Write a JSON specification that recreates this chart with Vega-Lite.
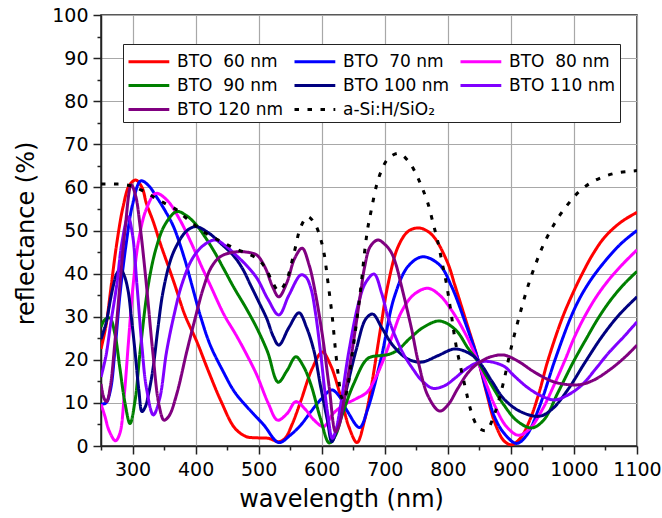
{
"$schema": "https://vega.github.io/schema/vega-lite/v6.json",
"width": 536, "height": 431,
"autosize": {"type": "none"},
"padding": {"left": 101, "top": 15, "right": 25, "bottom": 72},
"background": "white",
"config": {
 "font": "DejaVu Sans",
 "view": {"stroke": "#222", "strokeWidth": 1.5},
 "axis": {"domainColor": "#222", "domainWidth": 1.5, "tickColor": "#222", "tickWidth": 1.5, "gridColor": "#a8a8a8", "gridWidth": 1.2, "labelFont": "DejaVu Sans", "labelFontSize": 19, "labelColor": "black", "titleFont": "DejaVu Sans", "titleFontSize": 24, "titleFontWeight": "normal", "titleColor": "black", "labelOverlap": false, "labelBound": false, "labelFlush": false},
 "legend": {"orient": "none", "legendX": 22, "legendY": 29, "columns": 3, "direction": "horizontal", "symbolType": "M-1,0H2.4", "symbolSize": 576, "symbolStrokeWidth": 3, "labelFont": "DejaVu Sans", "labelFontSize": 17, "labelColor": "black", "labelOffset": 23, "rowPadding": 2, "columnPadding": 4, "padding": 4, "strokeColor": "#222", "fillColor": "white", "gridAlign": "each", "labelLimit": 300}
},
"data": {"values": [
{"s":"BTO \u00a060 nm","wl":250,"r":22.5},{"s":"BTO \u00a060 nm","wl":258,"r":28},{"s":"BTO \u00a060 nm","wl":266,"r":37},{"s":"BTO \u00a060 nm","wl":275,"r":47},{"s":"BTO \u00a060 nm","wl":285,"r":55.5},{"s":"BTO \u00a060 nm","wl":295,"r":60.5},{"s":"BTO \u00a060 nm","wl":305,"r":61.7},{"s":"BTO \u00a060 nm","wl":315,"r":60},{"s":"BTO \u00a060 nm","wl":322,"r":56.3},{"s":"BTO \u00a060 nm","wl":333,"r":52},{"s":"BTO \u00a060 nm","wl":344,"r":47},{"s":"BTO \u00a060 nm","wl":359,"r":40.8},{"s":"BTO \u00a060 nm","wl":367,"r":37.4},{"s":"BTO \u00a060 nm","wl":383,"r":30.4},{"s":"BTO \u00a060 nm","wl":402,"r":24.2},{"s":"BTO \u00a060 nm","wl":420,"r":17.5},{"s":"BTO \u00a060 nm","wl":440,"r":10.5},{"s":"BTO \u00a060 nm","wl":462,"r":4.2},{"s":"BTO \u00a060 nm","wl":480,"r":2.2},{"s":"BTO \u00a060 nm","wl":497,"r":1.9},{"s":"BTO \u00a060 nm","wl":515,"r":1.8},{"s":"BTO \u00a060 nm","wl":532,"r":1},{"s":"BTO \u00a060 nm","wl":542,"r":1.8},{"s":"BTO \u00a060 nm","wl":553,"r":5},{"s":"BTO \u00a060 nm","wl":567,"r":10.5},{"s":"BTO \u00a060 nm","wl":585,"r":18},{"s":"BTO \u00a060 nm","wl":601,"r":21.8},{"s":"BTO \u00a060 nm","wl":614,"r":18.8},{"s":"BTO \u00a060 nm","wl":630,"r":11.5},{"s":"BTO \u00a060 nm","wl":643,"r":4.5},{"s":"BTO \u00a060 nm","wl":656,"r":0.8},{"s":"BTO \u00a060 nm","wl":668,"r":6},{"s":"BTO \u00a060 nm","wl":678,"r":13.2},{"s":"BTO \u00a060 nm","wl":694,"r":27.9},{"s":"BTO \u00a060 nm","wl":705,"r":37.4},{"s":"BTO \u00a060 nm","wl":721,"r":46.2},{"s":"BTO \u00a060 nm","wl":737,"r":49.8},{"s":"BTO \u00a060 nm","wl":753,"r":50.6},{"s":"BTO \u00a060 nm","wl":766,"r":50},{"s":"BTO \u00a060 nm","wl":779,"r":48.3},{"s":"BTO \u00a060 nm","wl":800,"r":42.4},{"s":"BTO \u00a060 nm","wl":811,"r":37.4},{"s":"BTO \u00a060 nm","wl":830,"r":28.5},{"s":"BTO \u00a060 nm","wl":848,"r":20},{"s":"BTO \u00a060 nm","wl":862,"r":12},{"s":"BTO \u00a060 nm","wl":874,"r":5.6},{"s":"BTO \u00a060 nm","wl":889,"r":1.2},{"s":"BTO \u00a060 nm","wl":901,"r":0.3},{"s":"BTO \u00a060 nm","wl":915,"r":1.8},{"s":"BTO \u00a060 nm","wl":930,"r":6},{"s":"BTO \u00a060 nm","wl":945,"r":12.5},{"s":"BTO \u00a060 nm","wl":958,"r":19.5},{"s":"BTO \u00a060 nm","wl":981,"r":29.5},{"s":"BTO \u00a060 nm","wl":1000,"r":36},{"s":"BTO \u00a060 nm","wl":1015,"r":40.5},{"s":"BTO \u00a060 nm","wl":1030,"r":44.5},{"s":"BTO \u00a060 nm","wl":1049,"r":48.5},{"s":"BTO \u00a060 nm","wl":1075,"r":52},{"s":"BTO \u00a060 nm","wl":1100,"r":54.2},

{"s":"BTO \u00a070 nm","wl":250,"r":9.7},{"s":"BTO \u00a070 nm","wl":258,"r":10},{"s":"BTO \u00a070 nm","wl":265,"r":13},{"s":"BTO \u00a070 nm","wl":272,"r":22},{"s":"BTO \u00a070 nm","wl":280,"r":35},{"s":"BTO \u00a070 nm","wl":290,"r":47},{"s":"BTO \u00a070 nm","wl":300,"r":56},{"s":"BTO \u00a070 nm","wl":313,"r":61.5},{"s":"BTO \u00a070 nm","wl":325,"r":60.5},{"s":"BTO \u00a070 nm","wl":338,"r":57.8},{"s":"BTO \u00a070 nm","wl":352,"r":54.5},{"s":"BTO \u00a070 nm","wl":365,"r":50.9},{"s":"BTO \u00a070 nm","wl":383,"r":43.2},{"s":"BTO \u00a070 nm","wl":394,"r":37.4},{"s":"BTO \u00a070 nm","wl":408,"r":30},{"s":"BTO \u00a070 nm","wl":423,"r":23.5},{"s":"BTO \u00a070 nm","wl":444,"r":17.2},{"s":"BTO \u00a070 nm","wl":462,"r":12.5},{"s":"BTO \u00a070 nm","wl":482,"r":9},{"s":"BTO \u00a070 nm","wl":508,"r":4.9},{"s":"BTO \u00a070 nm","wl":532,"r":0.8},{"s":"BTO \u00a070 nm","wl":550,"r":2.5},{"s":"BTO \u00a070 nm","wl":567,"r":4.9},{"s":"BTO \u00a070 nm","wl":583,"r":8},{"s":"BTO \u00a070 nm","wl":598,"r":10.7},{"s":"BTO \u00a070 nm","wl":616,"r":13},{"s":"BTO \u00a070 nm","wl":628,"r":11.5},{"s":"BTO \u00a070 nm","wl":641,"r":8},{"s":"BTO \u00a070 nm","wl":660,"r":4.3},{"s":"BTO \u00a070 nm","wl":673,"r":8.6},{"s":"BTO \u00a070 nm","wl":694,"r":20.2},{"s":"BTO \u00a070 nm","wl":715,"r":34.5},{"s":"BTO \u00a070 nm","wl":737,"r":41.7},{"s":"BTO \u00a070 nm","wl":760,"r":43.9},{"s":"BTO \u00a070 nm","wl":787,"r":42},{"s":"BTO \u00a070 nm","wl":806,"r":37},{"s":"BTO \u00a070 nm","wl":828,"r":28.5},{"s":"BTO \u00a070 nm","wl":848,"r":20},{"s":"BTO \u00a070 nm","wl":862,"r":12.5},{"s":"BTO \u00a070 nm","wl":874,"r":6.8},{"s":"BTO \u00a070 nm","wl":889,"r":3},{"s":"BTO \u00a070 nm","wl":909,"r":0.6},{"s":"BTO \u00a070 nm","wl":925,"r":2.5},{"s":"BTO \u00a070 nm","wl":945,"r":9},{"s":"BTO \u00a070 nm","wl":970,"r":20},{"s":"BTO \u00a070 nm","wl":994,"r":29.5},{"s":"BTO \u00a070 nm","wl":1010,"r":34.5},{"s":"BTO \u00a070 nm","wl":1028,"r":38.8},{"s":"BTO \u00a070 nm","wl":1050,"r":43},{"s":"BTO \u00a070 nm","wl":1075,"r":47},{"s":"BTO \u00a070 nm","wl":1100,"r":50},

{"s":"BTO \u00a080 nm","wl":250,"r":9.7},{"s":"BTO \u00a080 nm","wl":256,"r":7},{"s":"BTO \u00a080 nm","wl":263,"r":3.5},{"s":"BTO \u00a080 nm","wl":273,"r":1.2},{"s":"BTO \u00a080 nm","wl":280,"r":3},{"s":"BTO \u00a080 nm","wl":287,"r":12},{"s":"BTO \u00a080 nm","wl":294,"r":25},{"s":"BTO \u00a080 nm","wl":301,"r":37.4},{"s":"BTO \u00a080 nm","wl":310,"r":48},{"s":"BTO \u00a080 nm","wl":322,"r":55},{"s":"BTO \u00a080 nm","wl":337,"r":58.6},{"s":"BTO \u00a080 nm","wl":355,"r":57},{"s":"BTO \u00a080 nm","wl":375,"r":52.5},{"s":"BTO \u00a080 nm","wl":395,"r":46.5},{"s":"BTO \u00a080 nm","wl":410,"r":41.5},{"s":"BTO \u00a080 nm","wl":423,"r":37.4},{"s":"BTO \u00a080 nm","wl":445,"r":30.5},{"s":"BTO \u00a080 nm","wl":464,"r":25.8},{"s":"BTO \u00a080 nm","wl":480,"r":21.5},{"s":"BTO \u00a080 nm","wl":497,"r":16.5},{"s":"BTO \u00a080 nm","wl":515,"r":10},{"s":"BTO \u00a080 nm","wl":530,"r":6},{"s":"BTO \u00a080 nm","wl":545,"r":7.5},{"s":"BTO \u00a080 nm","wl":559,"r":10.3},{"s":"BTO \u00a080 nm","wl":574,"r":8.5},{"s":"BTO \u00a080 nm","wl":588,"r":6},{"s":"BTO \u00a080 nm","wl":603,"r":4.5},{"s":"BTO \u00a080 nm","wl":618,"r":7.5},{"s":"BTO \u00a080 nm","wl":635,"r":9.5},{"s":"BTO \u00a080 nm","wl":655,"r":11},{"s":"BTO \u00a080 nm","wl":672,"r":12.5},{"s":"BTO \u00a080 nm","wl":686,"r":16},{"s":"BTO \u00a080 nm","wl":700,"r":20.8},{"s":"BTO \u00a080 nm","wl":713,"r":26},{"s":"BTO \u00a080 nm","wl":726,"r":31},{"s":"BTO \u00a080 nm","wl":745,"r":35},{"s":"BTO \u00a080 nm","wl":768,"r":36.6},{"s":"BTO \u00a080 nm","wl":787,"r":35},{"s":"BTO \u00a080 nm","wl":806,"r":31.5},{"s":"BTO \u00a080 nm","wl":828,"r":26},{"s":"BTO \u00a080 nm","wl":848,"r":19.5},{"s":"BTO \u00a080 nm","wl":862,"r":14},{"s":"BTO \u00a080 nm","wl":874,"r":9.5},{"s":"BTO \u00a080 nm","wl":893,"r":4.5},{"s":"BTO \u00a080 nm","wl":912,"r":2.5},{"s":"BTO \u00a080 nm","wl":930,"r":4},{"s":"BTO \u00a080 nm","wl":950,"r":8.5},{"s":"BTO \u00a080 nm","wl":968,"r":14},{"s":"BTO \u00a080 nm","wl":986,"r":20},{"s":"BTO \u00a080 nm","wl":1000,"r":25},{"s":"BTO \u00a080 nm","wl":1015,"r":29.5},{"s":"BTO \u00a080 nm","wl":1035,"r":34.5},{"s":"BTO \u00a080 nm","wl":1055,"r":38.5},{"s":"BTO \u00a080 nm","wl":1078,"r":42.3},{"s":"BTO \u00a080 nm","wl":1100,"r":45.5},

{"s":"BTO \u00a090 nm","wl":250,"r":27.6},{"s":"BTO \u00a090 nm","wl":256,"r":29.3},{"s":"BTO \u00a090 nm","wl":264,"r":29.7},{"s":"BTO \u00a090 nm","wl":272,"r":26},{"s":"BTO \u00a090 nm","wl":280,"r":18},{"s":"BTO \u00a090 nm","wl":288,"r":10},{"s":"BTO \u00a090 nm","wl":296,"r":5.2},{"s":"BTO \u00a090 nm","wl":304,"r":10.5},{"s":"BTO \u00a090 nm","wl":312,"r":21.9},{"s":"BTO \u00a090 nm","wl":325,"r":37.4},{"s":"BTO \u00a090 nm","wl":338,"r":46.2},{"s":"BTO \u00a090 nm","wl":352,"r":51.5},{"s":"BTO \u00a090 nm","wl":370,"r":54.4},{"s":"BTO \u00a090 nm","wl":385,"r":53.5},{"s":"BTO \u00a090 nm","wl":400,"r":51.5},{"s":"BTO \u00a090 nm","wl":415,"r":48.5},{"s":"BTO \u00a090 nm","wl":430,"r":45},{"s":"BTO \u00a090 nm","wl":445,"r":41},{"s":"BTO \u00a090 nm","wl":461,"r":36.7},{"s":"BTO \u00a090 nm","wl":480,"r":32},{"s":"BTO \u00a090 nm","wl":497,"r":27.4},{"s":"BTO \u00a090 nm","wl":514,"r":21.9},{"s":"BTO \u00a090 nm","wl":531,"r":14.8},{"s":"BTO \u00a090 nm","wl":545,"r":17.5},{"s":"BTO \u00a090 nm","wl":559,"r":20.7},{"s":"BTO \u00a090 nm","wl":571,"r":18.5},{"s":"BTO \u00a090 nm","wl":583,"r":14.2},{"s":"BTO \u00a090 nm","wl":598,"r":6.4},{"s":"BTO \u00a090 nm","wl":612,"r":0.7},{"s":"BTO \u00a090 nm","wl":622,"r":2.5},{"s":"BTO \u00a090 nm","wl":632,"r":7},{"s":"BTO \u00a090 nm","wl":651,"r":14.5},{"s":"BTO \u00a090 nm","wl":673,"r":20.3},{"s":"BTO \u00a090 nm","wl":694,"r":21},{"s":"BTO \u00a090 nm","wl":705,"r":21.2},{"s":"BTO \u00a090 nm","wl":720,"r":22.2},{"s":"BTO \u00a090 nm","wl":740,"r":25},{"s":"BTO \u00a090 nm","wl":762,"r":27.6},{"s":"BTO \u00a090 nm","wl":787,"r":29},{"s":"BTO \u00a090 nm","wl":812,"r":27},{"s":"BTO \u00a090 nm","wl":832,"r":22.7},{"s":"BTO \u00a090 nm","wl":848,"r":19.5},{"s":"BTO \u00a090 nm","wl":869,"r":14.2},{"s":"BTO \u00a090 nm","wl":889,"r":9.5},{"s":"BTO \u00a090 nm","wl":910,"r":5.8},{"s":"BTO \u00a090 nm","wl":933,"r":4.2},{"s":"BTO \u00a090 nm","wl":952,"r":6},{"s":"BTO \u00a090 nm","wl":975,"r":12.5},{"s":"BTO \u00a090 nm","wl":999,"r":19.5},{"s":"BTO \u00a090 nm","wl":1020,"r":25},{"s":"BTO \u00a090 nm","wl":1040,"r":30},{"s":"BTO \u00a090 nm","wl":1060,"r":34.2},{"s":"BTO \u00a090 nm","wl":1081,"r":37.8},{"s":"BTO \u00a090 nm","wl":1100,"r":40.5},

{"s":"BTO 100 nm","wl":250,"r":24.8},{"s":"BTO 100 nm","wl":258,"r":28.5},{"s":"BTO 100 nm","wl":265,"r":34},{"s":"BTO 100 nm","wl":270,"r":37.5},{"s":"BTO 100 nm","wl":275,"r":40},{"s":"BTO 100 nm","wl":281,"r":41},{"s":"BTO 100 nm","wl":287,"r":39.5},{"s":"BTO 100 nm","wl":293,"r":36},{"s":"BTO 100 nm","wl":298,"r":30},{"s":"BTO 100 nm","wl":304,"r":21.9},{"s":"BTO 100 nm","wl":310,"r":13},{"s":"BTO 100 nm","wl":315,"r":8},{"s":"BTO 100 nm","wl":320,"r":9},{"s":"BTO 100 nm","wl":326,"r":12.5},{"s":"BTO 100 nm","wl":333,"r":18.5},{"s":"BTO 100 nm","wl":340,"r":27},{"s":"BTO 100 nm","wl":348,"r":35.5},{"s":"BTO 100 nm","wl":360,"r":43},{"s":"BTO 100 nm","wl":370,"r":46.5},{"s":"BTO 100 nm","wl":385,"r":49.8},{"s":"BTO 100 nm","wl":400,"r":50.9},{"s":"BTO 100 nm","wl":420,"r":49.5},{"s":"BTO 100 nm","wl":440,"r":47},{"s":"BTO 100 nm","wl":461,"r":44},{"s":"BTO 100 nm","wl":475,"r":41},{"s":"BTO 100 nm","wl":487,"r":37.4},{"s":"BTO 100 nm","wl":500,"r":33.5},{"s":"BTO 100 nm","wl":513,"r":29.5},{"s":"BTO 100 nm","wl":523,"r":25.5},{"s":"BTO 100 nm","wl":532,"r":23.4},{"s":"BTO 100 nm","wl":548,"r":27.5},{"s":"BTO 100 nm","wl":564,"r":30.9},{"s":"BTO 100 nm","wl":576,"r":27.5},{"s":"BTO 100 nm","wl":588,"r":21.9},{"s":"BTO 100 nm","wl":598,"r":14},{"s":"BTO 100 nm","wl":609,"r":6},{"s":"BTO 100 nm","wl":616,"r":1},{"s":"BTO 100 nm","wl":625,"r":4.5},{"s":"BTO 100 nm","wl":641,"r":14.2},{"s":"BTO 100 nm","wl":655,"r":22.5},{"s":"BTO 100 nm","wl":670,"r":29.5},{"s":"BTO 100 nm","wl":681,"r":30.6},{"s":"BTO 100 nm","wl":695,"r":27.5},{"s":"BTO 100 nm","wl":712,"r":23.5},{"s":"BTO 100 nm","wl":730,"r":20.8},{"s":"BTO 100 nm","wl":745,"r":19.7},{"s":"BTO 100 nm","wl":760,"r":19.5},{"s":"BTO 100 nm","wl":785,"r":21},{"s":"BTO 100 nm","wl":810,"r":22.5},{"s":"BTO 100 nm","wl":830,"r":21.8},{"s":"BTO 100 nm","wl":847,"r":20},{"s":"BTO 100 nm","wl":870,"r":15},{"s":"BTO 100 nm","wl":889,"r":10.9},{"s":"BTO 100 nm","wl":915,"r":8},{"s":"BTO 100 nm","wl":945,"r":6.9},{"s":"BTO 100 nm","wl":965,"r":8.5},{"s":"BTO 100 nm","wl":990,"r":13},{"s":"BTO 100 nm","wl":1018,"r":19.5},{"s":"BTO 100 nm","wl":1045,"r":25.5},{"s":"BTO 100 nm","wl":1072,"r":30.5},{"s":"BTO 100 nm","wl":1100,"r":34.6},

{"s":"BTO 110 nm","wl":250,"r":16},{"s":"BTO 110 nm","wl":258,"r":21},{"s":"BTO 110 nm","wl":265,"r":28},{"s":"BTO 110 nm","wl":275,"r":37.4},{"s":"BTO 110 nm","wl":283,"r":47},{"s":"BTO 110 nm","wl":293,"r":53.2},{"s":"BTO 110 nm","wl":300,"r":49},{"s":"BTO 110 nm","wl":307,"r":37.4},{"s":"BTO 110 nm","wl":315,"r":23},{"s":"BTO 110 nm","wl":322,"r":13.5},{"s":"BTO 110 nm","wl":333,"r":7.2},{"s":"BTO 110 nm","wl":343,"r":11},{"s":"BTO 110 nm","wl":354,"r":21.9},{"s":"BTO 110 nm","wl":366,"r":30.5},{"s":"BTO 110 nm","wl":378,"r":37.4},{"s":"BTO 110 nm","wl":395,"r":43.5},{"s":"BTO 110 nm","wl":412,"r":46.5},{"s":"BTO 110 nm","wl":431,"r":47.8},{"s":"BTO 110 nm","wl":447,"r":46.5},{"s":"BTO 110 nm","wl":461,"r":44.7},{"s":"BTO 110 nm","wl":480,"r":42},{"s":"BTO 110 nm","wl":497,"r":39},{"s":"BTO 110 nm","wl":515,"r":34},{"s":"BTO 110 nm","wl":532,"r":30.4},{"s":"BTO 110 nm","wl":548,"r":35},{"s":"BTO 110 nm","wl":567,"r":39.7},{"s":"BTO 110 nm","wl":575,"r":39.2},{"s":"BTO 110 nm","wl":583,"r":36.5},{"s":"BTO 110 nm","wl":590,"r":31},{"s":"BTO 110 nm","wl":598,"r":21.9},{"s":"BTO 110 nm","wl":609,"r":8},{"s":"BTO 110 nm","wl":617,"r":1.8},{"s":"BTO 110 nm","wl":623,"r":4},{"s":"BTO 110 nm","wl":630,"r":9.5},{"s":"BTO 110 nm","wl":643,"r":21.9},{"s":"BTO 110 nm","wl":659,"r":33.5},{"s":"BTO 110 nm","wl":670,"r":38},{"s":"BTO 110 nm","wl":683,"r":39.9},{"s":"BTO 110 nm","wl":695,"r":35.5},{"s":"BTO 110 nm","wl":705,"r":30},{"s":"BTO 110 nm","wl":718,"r":25},{"s":"BTO 110 nm","wl":731,"r":21},{"s":"BTO 110 nm","wl":745,"r":17.8},{"s":"BTO 110 nm","wl":758,"r":15.3},{"s":"BTO 110 nm","wl":776,"r":13.4},{"s":"BTO 110 nm","wl":795,"r":14},{"s":"BTO 110 nm","wl":811,"r":15.7},{"s":"BTO 110 nm","wl":830,"r":18},{"s":"BTO 110 nm","wl":848,"r":19.4},{"s":"BTO 110 nm","wl":865,"r":19.6},{"s":"BTO 110 nm","wl":889,"r":18.5},{"s":"BTO 110 nm","wl":905,"r":16.3},{"s":"BTO 110 nm","wl":928,"r":13.4},{"s":"BTO 110 nm","wl":950,"r":11.5},{"s":"BTO 110 nm","wl":970,"r":10.7},{"s":"BTO 110 nm","wl":990,"r":11.8},{"s":"BTO 110 nm","wl":1013,"r":14.2},{"s":"BTO 110 nm","wl":1035,"r":18},{"s":"BTO 110 nm","wl":1055,"r":21.6},{"s":"BTO 110 nm","wl":1080,"r":25.5},{"s":"BTO 110 nm","wl":1100,"r":28.8},

{"s":"BTO 120 nm","wl":250,"r":14.4},{"s":"BTO 120 nm","wl":255,"r":11},{"s":"BTO 120 nm","wl":259,"r":10.3},{"s":"BTO 120 nm","wl":265,"r":14},{"s":"BTO 120 nm","wl":272,"r":24},{"s":"BTO 120 nm","wl":280,"r":37.4},{"s":"BTO 120 nm","wl":288,"r":50},{"s":"BTO 120 nm","wl":298,"r":60.6},{"s":"BTO 120 nm","wl":305,"r":58},{"s":"BTO 120 nm","wl":312,"r":51},{"s":"BTO 120 nm","wl":322,"r":37.4},{"s":"BTO 120 nm","wl":332,"r":22},{"s":"BTO 120 nm","wl":342,"r":9.5},{"s":"BTO 120 nm","wl":350,"r":6},{"s":"BTO 120 nm","wl":358,"r":7},{"s":"BTO 120 nm","wl":370,"r":12},{"s":"BTO 120 nm","wl":386,"r":21.9},{"s":"BTO 120 nm","wl":400,"r":30},{"s":"BTO 120 nm","wl":412,"r":36.5},{"s":"BTO 120 nm","wl":425,"r":41.5},{"s":"BTO 120 nm","wl":440,"r":44},{"s":"BTO 120 nm","wl":461,"r":45},{"s":"BTO 120 nm","wl":480,"r":45},{"s":"BTO 120 nm","wl":497,"r":44.3},{"s":"BTO 120 nm","wl":510,"r":41.5},{"s":"BTO 120 nm","wl":522,"r":37},{"s":"BTO 120 nm","wl":532,"r":34.6},{"s":"BTO 120 nm","wl":545,"r":38},{"s":"BTO 120 nm","wl":557,"r":43.5},{"s":"BTO 120 nm","wl":569,"r":45.9},{"s":"BTO 120 nm","wl":580,"r":42},{"s":"BTO 120 nm","wl":588,"r":37},{"s":"BTO 120 nm","wl":601,"r":25.8},{"s":"BTO 120 nm","wl":612,"r":13.5},{"s":"BTO 120 nm","wl":622,"r":3.3},{"s":"BTO 120 nm","wl":628,"r":5},{"s":"BTO 120 nm","wl":635,"r":10.3},{"s":"BTO 120 nm","wl":648,"r":21.9},{"s":"BTO 120 nm","wl":662,"r":35.8},{"s":"BTO 120 nm","wl":668,"r":41.5},{"s":"BTO 120 nm","wl":677,"r":46.3},{"s":"BTO 120 nm","wl":689,"r":47.8},{"s":"BTO 120 nm","wl":700,"r":46.8},{"s":"BTO 120 nm","wl":710,"r":45},{"s":"BTO 120 nm","wl":718,"r":42},{"s":"BTO 120 nm","wl":726,"r":37.4},{"s":"BTO 120 nm","wl":742,"r":27.5},{"s":"BTO 120 nm","wl":753,"r":19.6},{"s":"BTO 120 nm","wl":769,"r":11.5},{"s":"BTO 120 nm","wl":787,"r":8.1},{"s":"BTO 120 nm","wl":800,"r":9.5},{"s":"BTO 120 nm","wl":816,"r":13.4},{"s":"BTO 120 nm","wl":832,"r":17},{"s":"BTO 120 nm","wl":848,"r":19.2},{"s":"BTO 120 nm","wl":868,"r":20.7},{"s":"BTO 120 nm","wl":889,"r":21.1},{"s":"BTO 120 nm","wl":910,"r":19.8},{"s":"BTO 120 nm","wl":939,"r":17},{"s":"BTO 120 nm","wl":970,"r":14.8},{"s":"BTO 120 nm","wl":1007,"r":14.2},{"s":"BTO 120 nm","wl":1030,"r":15.2},{"s":"BTO 120 nm","wl":1055,"r":17.5},{"s":"BTO 120 nm","wl":1080,"r":20.5},{"s":"BTO 120 nm","wl":1100,"r":23.4},

{"s":"a-Si:H/SiO₂","wl":250,"r":60.8},{"s":"a-Si:H/SiO₂","wl":270,"r":60.8},{"s":"a-Si:H/SiO₂","wl":290,"r":60.6},{"s":"a-Si:H/SiO₂","wl":301,"r":60.2},{"s":"a-Si:H/SiO₂","wl":315,"r":59.3},{"s":"a-Si:H/SiO₂","wl":333,"r":57.8},{"s":"a-Si:H/SiO₂","wl":350,"r":56.4},{"s":"a-Si:H/SiO₂","wl":370,"r":54.8},{"s":"a-Si:H/SiO₂","wl":385,"r":52.9},{"s":"a-Si:H/SiO₂","wl":402,"r":50.9},{"s":"a-Si:H/SiO₂","wl":420,"r":49},{"s":"a-Si:H/SiO₂","wl":444,"r":47.2},{"s":"a-Si:H/SiO₂","wl":464,"r":45.7},{"s":"a-Si:H/SiO₂","wl":482,"r":44.7},{"s":"a-Si:H/SiO₂","wl":500,"r":43.2},{"s":"a-Si:H/SiO₂","wl":512,"r":41},{"s":"a-Si:H/SiO₂","wl":522,"r":38},{"s":"a-Si:H/SiO₂","wl":532,"r":36},{"s":"a-Si:H/SiO₂","wl":543,"r":38},{"s":"a-Si:H/SiO₂","wl":556,"r":44.7},{"s":"a-Si:H/SiO₂","wl":567,"r":50.9},{"s":"a-Si:H/SiO₂","wl":578,"r":53.2},{"s":"a-Si:H/SiO₂","wl":590,"r":51.3},{"s":"a-Si:H/SiO₂","wl":598,"r":48.2},{"s":"a-Si:H/SiO₂","wl":604,"r":44.5},{"s":"a-Si:H/SiO₂","wl":609,"r":39},{"s":"a-Si:H/SiO₂","wl":613,"r":34.5},{"s":"a-Si:H/SiO₂","wl":617,"r":29.6},{"s":"a-Si:H/SiO₂","wl":622,"r":22},{"s":"a-Si:H/SiO₂","wl":627,"r":15.5},{"s":"a-Si:H/SiO₂","wl":631,"r":11.5},{"s":"a-Si:H/SiO₂","wl":635,"r":10.5},{"s":"a-Si:H/SiO₂","wl":641,"r":13.5},{"s":"a-Si:H/SiO₂","wl":649,"r":21.9},{"s":"a-Si:H/SiO₂","wl":656,"r":29.6},{"s":"a-Si:H/SiO₂","wl":663,"r":38},{"s":"a-Si:H/SiO₂","wl":668,"r":45},{"s":"a-Si:H/SiO₂","wl":673,"r":50.5},{"s":"a-Si:H/SiO₂","wl":679,"r":55},{"s":"a-Si:H/SiO₂","wl":687,"r":60.5},{"s":"a-Si:H/SiO₂","wl":695,"r":64},{"s":"a-Si:H/SiO₂","wl":705,"r":66.6},{"s":"a-Si:H/SiO₂","wl":722,"r":67.9},{"s":"a-Si:H/SiO₂","wl":738,"r":66},{"s":"a-Si:H/SiO₂","wl":750,"r":63},{"s":"a-Si:H/SiO₂","wl":759,"r":60},{"s":"a-Si:H/SiO₂","wl":768,"r":56.5},{"s":"a-Si:H/SiO₂","wl":777,"r":51.5},{"s":"a-Si:H/SiO₂","wl":784,"r":47.5},{"s":"a-Si:H/SiO₂","wl":791,"r":42.5},{"s":"a-Si:H/SiO₂","wl":798,"r":37.5},{"s":"a-Si:H/SiO₂","wl":805,"r":31},{"s":"a-Si:H/SiO₂","wl":813,"r":23.4},{"s":"a-Si:H/SiO₂","wl":827,"r":14},{"s":"a-Si:H/SiO₂","wl":837,"r":8},{"s":"a-Si:H/SiO₂","wl":845,"r":5},{"s":"a-Si:H/SiO₂","wl":852,"r":3.9},{"s":"a-Si:H/SiO₂","wl":861,"r":3.6},{"s":"a-Si:H/SiO₂","wl":874,"r":7.4},{"s":"a-Si:H/SiO₂","wl":887,"r":14},{"s":"a-Si:H/SiO₂","wl":900,"r":22.5},{"s":"a-Si:H/SiO₂","wl":915,"r":31},{"s":"a-Si:H/SiO₂","wl":928,"r":37.5},{"s":"a-Si:H/SiO₂","wl":940,"r":42.5},{"s":"a-Si:H/SiO₂","wl":952,"r":46.8},{"s":"a-Si:H/SiO₂","wl":970,"r":51.8},{"s":"a-Si:H/SiO₂","wl":990,"r":56},{"s":"a-Si:H/SiO₂","wl":1008,"r":59},{"s":"a-Si:H/SiO₂","wl":1026,"r":61},{"s":"a-Si:H/SiO₂","wl":1044,"r":62.3},{"s":"a-Si:H/SiO₂","wl":1066,"r":63.3},{"s":"a-Si:H/SiO₂","wl":1087,"r":63.7},{"s":"a-Si:H/SiO₂","wl":1100,"r":63.9}
]},
"mark": {"type": "line", "strokeWidth": 3, "interpolate": "catmull-rom", "clip": true},
"encoding": {
 "x": {"field": "wl", "type": "quantitative",
  "scale": {"domain": [250, 1100], "nice": false, "zero": false},
  "axis": {"values": [250,300,350,400,450,500,550,600,650,700,750,800,850,900,950,1000,1050,1100], "format": "d",
   "labelExpr": "datum.value % 100 === 0 ? datum.label : ''",
   "tickSize": {"condition": {"test": "datum.value % 100 === 0", "value": 8}, "value": 4},
   "gridOpacity": {"condition": {"test": "datum.value % 100 === 0", "value": 1}, "value": 0},
   "labelPadding": 6, "title": "wavelength (nm)", "titleX": 240, "titleY": 60, "titleBaseline": "alphabetic", "titleAlign": "center"}},
 "y": {"field": "r", "type": "quantitative",
  "scale": {"domain": [0, 100], "nice": false},
  "axis": {"values": [0,5,10,15,20,25,30,35,40,45,50,55,60,65,70,75,80,85,90,95,100], "format": "d",
   "labelExpr": "datum.value % 10 === 0 ? datum.label : ''",
   "tickSize": {"condition": {"test": "datum.value % 10 === 0", "value": 8}, "value": 4},
   "gridOpacity": {"condition": {"test": "datum.value % 10 === 0", "value": 1}, "value": 0},
   "labelPadding": 5, "title": "reflectance (%)", "titleX": -68, "titleY": 218, "titleAngle": -90, "titleBaseline": "alphabetic", "titleAlign": "center"}},
 "color": {"field": "s", "type": "nominal",
  "scale": {"domain": ["BTO \u00a060 nm","BTO \u00a070 nm","BTO \u00a080 nm","BTO \u00a090 nm","BTO 100 nm","BTO 110 nm","BTO 120 nm","a-Si:H/SiO₂"],
   "range": ["#ff0000","#0000ff","#ff00ff","#008000","#000080","#8000ff","#800080","#000000"]},
  "legend": {"title": null}},
 "strokeDash": {"field": "s", "type": "nominal",
  "scale": {"domain": ["BTO \u00a060 nm","BTO \u00a070 nm","BTO \u00a080 nm","BTO \u00a090 nm","BTO 100 nm","BTO 110 nm","BTO 120 nm","a-Si:H/SiO₂"],
   "range": [[1,0],[1,0],[1,0],[1,0],[1,0],[1,0],[1,0],[4.5,8.5]]},
  "legend": {"title": null}}
}
}
